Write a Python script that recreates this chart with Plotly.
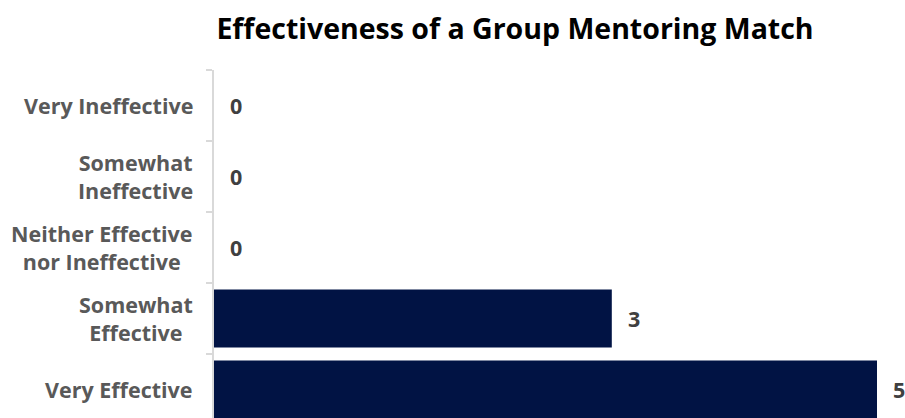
import plotly.graph_objects as go

categories = ["Very Ineffective", "Somewhat Ineffective", "Neither Effective nor Ineffective",
              "Somewhat Effective", "Very Effective"]
tick_labels = ["Very Ineffective", "Somewhat<br>Ineffective", "Neither Effective<br>nor Ineffective",
               "Somewhat<br>Effective", "Very Effective"]
values = [0, 0, 0, 3, 5]

TITLE = "Effectiveness of a Group Mentoring Match"
FONT = "Open Sans"
BAR_COLOR = "#011344"
LABEL_COLOR = "#595959"
VALUE_COLOR = "#404040"
AXIS_COLOR = "#d9d9d9"

fig = go.Figure()
fig.add_trace(go.Bar(
    x=values, y=categories, orientation="h",
    marker=dict(color=BAR_COLOR, line=dict(width=0)),
    width=0.82, hoverinfo="skip", showlegend=False,
))

annotations = []
for cat, lab in zip(categories, tick_labels):
    annotations.append(dict(
        x=0, y=cat, xref="paper", yref="y", text=lab, showarrow=False,
        xanchor="right", yanchor="middle", align="center", xshift=-19,
        font=dict(family=FONT, size=21.5, color=LABEL_COLOR, weight="bold"),
    ))
for cat, v in zip(categories, values):
    annotations.append(dict(
        x=v, y=cat, xref="x", yref="y", text=str(v), showarrow=False,
        xanchor="left", yanchor="middle", xshift=14,
        font=dict(family=FONT, size=21.5, color=VALUE_COLOR, weight="bold"),
    ))

fig.update_layout(
    width=905, height=418,
    margin=dict(l=214, r=0, t=70, b=0),
    paper_bgcolor="white", plot_bgcolor="white",
    title=dict(text=TITLE, x=515 / 905, xanchor="center", xref="container",
               y=1 - 29 / 418, yanchor="middle", yref="container",
               font=dict(family=FONT, size=28.5, color="#000000", weight="bold")),
    xaxis=dict(visible=False, range=[0, 691 / 132.6], fixedrange=True),
    yaxis=dict(
        type="category", categoryorder="array", categoryarray=categories,
        range=[-0.5 + 348 / 71, -0.5],
        showticklabels=False, showgrid=False, zeroline=False,
        showline=True, linecolor=AXIS_COLOR, linewidth=2,
        ticks="outside", ticklen=6, tickcolor=AXIS_COLOR, tickwidth=2,
        tickson="boundaries",
    ),
    annotations=annotations,
    bargap=0.18,
)

fig.write_html("out.html")
